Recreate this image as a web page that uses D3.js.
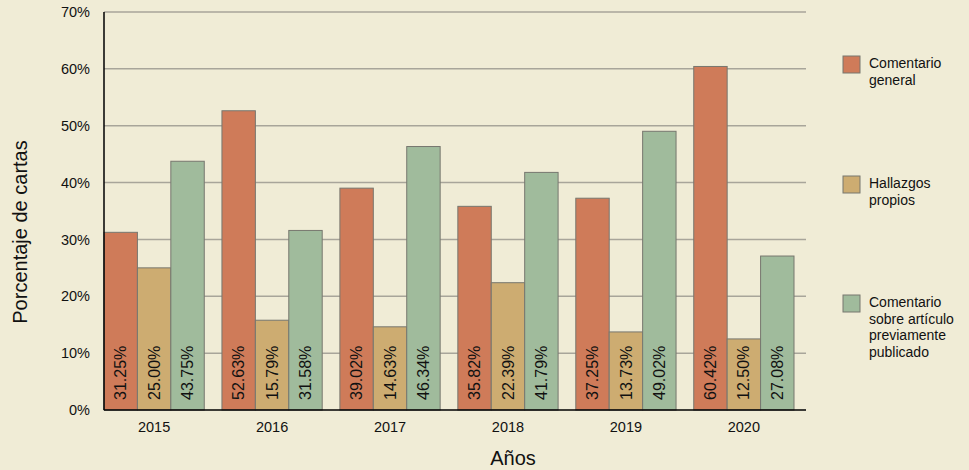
<!DOCTYPE html>
<html><head><meta charset="utf-8">
<script src="https://cdn.jsdelivr.net/npm/d3@7"></script>
<style>
html,body{margin:0;padding:0;background:#f0ecd6;}
svg{display:block;font-family:"Liberation Sans",Arial,sans-serif;}
</style></head>
<body><svg id="c" width="969" height="470"></svg>
<script>
const years = ["2015","2016","2017","2018","2019","2020"];
const seriesNames = ["Comentario general","Hallazgos propios","Comentario sobre artículo previamente publicado"];
const legendLines = [["Comentario","general"],["Hallazgos","propios"],["Comentario","sobre artículo","previamente","publicado"]];
const comentarioGeneral = [31.25, 52.63, 39.02, 35.82, 37.25, 60.42];
const hallazgosPropios = [25.00, 15.79, 14.63, 22.39, 13.73, 12.50];
const comentarioArticulo = [43.75, 31.58, 46.34, 41.79, 49.02, 27.08];
const yTicks = [0,10,20,30,40,50,60,70];
const colors = ["#cf7b59","#cdac71","#a0bb9c"];

(function(){
const series = [comentarioGeneral, hallazgosPropios, comentarioArticulo];
const svg = d3.select("#c");
const L = 104, R = 806, T = 12, B = 410;

const y = d3.scaleLinear().domain([0,70]).range([B, T]);
const x0 = d3.scaleBand().domain(years).range([L, 794]).paddingInner(0.15).paddingOuter(0);
const x1 = d3.scaleBand().domain(d3.range(3)).range([0, x0.bandwidth()]);

svg.append("g").selectAll("line").data(yTicks.filter(d=>d>0)).join("line")
  .attr("x1", L).attr("x2", R)
  .attr("y1", d=>y(d)).attr("y2", d=>y(d))
  .attr("stroke", "#a8a59a").attr("stroke-width", 1.5);

svg.append("g").selectAll("text").data(yTicks).join("text")
  .attr("x", 90).attr("y", d=>y(d)).attr("dy","0.35em")
  .attr("text-anchor","end").attr("font-size", 14.5).attr("fill","#111")
  .text(d=>d+"%");

const groups = svg.append("g").selectAll("g").data(years).join("g")
  .attr("transform", d=>`translate(${x0(d)},0)`);
groups.selectAll("rect").data((d,i)=>series.map((s,k)=>({k, v:s[i]}))).join("rect")
  .attr("x", d=>x1(d.k)).attr("width", x1.bandwidth())
  .attr("y", d=>y(d.v)).attr("height", d=>B - y(d.v))
  .attr("fill", d=>colors[d.k]).attr("stroke","#77776f").attr("stroke-width",1);
groups.selectAll("text").data((d,i)=>series.map((s,k)=>({k, v:s[i]}))).join("text")
  .attr("transform", d=>`translate(${x1(d.k)+x1.bandwidth()/2},${B-10}) rotate(-90)`)
  .attr("dy","0.35em").attr("font-size",16).attr("fill","#111")
  .text(d=>d.v.toFixed(2)+"%");

svg.append("line").attr("x1",L).attr("x2",L).attr("y1",T).attr("y2",B)
  .attr("stroke","#000").attr("stroke-width",1.5);
svg.append("line").attr("x1",L).attr("x2",R).attr("y1",B).attr("y2",B)
  .attr("stroke","#000").attr("stroke-width",1.5);

svg.append("g").selectAll("text").data(years).join("text")
  .attr("x", d=>x0(d)+x0.bandwidth()/2).attr("y", 432)
  .attr("text-anchor","middle").attr("font-size",14.5).attr("fill","#111")
  .text(d=>d);

svg.append("text").attr("x", 513).attr("y", 465).attr("text-anchor","middle")
  .attr("font-size",20).attr("fill","#111").text("Años");
svg.append("text").attr("transform","translate(27,232) rotate(-90)").attr("text-anchor","middle")
  .attr("font-size",20).attr("fill","#111").text("Porcentaje de cartas");

const legTops = [56, 176, 295];
const leg = svg.append("g").selectAll("g").data(seriesNames).join("g")
  .attr("transform",(d,i)=>`translate(843,${legTops[i]})`);
leg.append("rect").attr("width",17).attr("height",17)
  .attr("fill",(d,i)=>colors[i]).attr("stroke","#77776f").attr("stroke-width",1);
leg.each(function(d,i){
  d3.select(this).selectAll("text").data(legendLines[i]).join("text")
    .attr("x",26).attr("y",(t,j)=>12+j*16.5)
    .attr("font-size",14).attr("fill","#111").text(t=>t);
});
})();
</script></body></html>
